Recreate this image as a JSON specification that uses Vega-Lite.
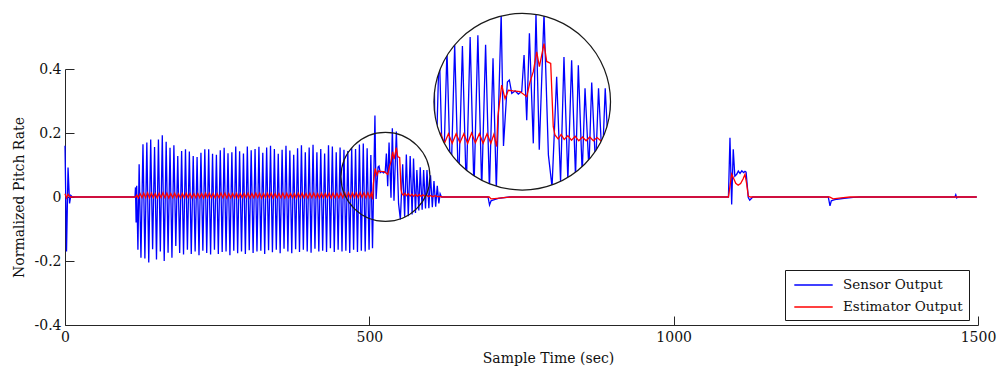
{
  "$schema": "https://vega.github.io/schema/vega-lite/v6.json",
  "width": 913,
  "height": 256,
  "autosize": {"type": "none"},
  "padding": {"left": 65, "top": 69, "right": 21, "bottom": 44},
  "background": "white",
  "config": {
    "view": {"stroke": null},
    "font": "DejaVu Serif",
    "axis": {
      "domainColor": "#262626", "tickColor": "#262626", "labelColor": "#111111", "titleColor": "#111111",
      "labelFont": "DejaVu Serif", "titleFont": "DejaVu Serif",
      "labelFontSize": 14, "titleFontSize": 14, "titleFontWeight": "normal",
      "grid": false, "tickSize": -9, "domainWidth": 1, "tickWidth": 1, "labelFlush": false, "labelOverlap": false
    }
  },
  "datasets": {
    "circle": [{"t": 526.5, "v": 0.063}],
    "sensor": [
      {"t":0,"v":0.16},{"t":2.5,"v":-0.17},{"t":5,"v":0.092},{"t":7.5,"v":-0.02},{"t":9.5,"v":0.005},{"t":12,"v":0},
      {"t":115,"v":0},{"t":115.8,"v":0.03},{"t":116.8,"v":-0.08},{"t":117.8,"v":0.035},{"t":119.8,"v":-0.165},{"t":121.8,"v":0.102},{"t":124.8,"v":-0.19},
      {"t":128.1,"v":0.165},{"t":131.25,"v":-0.192},{"t":134.45,"v":0.17},{"t":137.6,"v":-0.205},{"t":140.8,"v":0.18},{"t":143.95,"v":-0.163},
      {"t":147.15,"v":0.156},{"t":150.3,"v":-0.195},{"t":153.5,"v":0.18},{"t":156.65,"v":-0.17},{"t":159.85,"v":0.193},{"t":163.0,"v":-0.2},
      {"t":166.2,"v":0.173},{"t":169.35,"v":-0.174},{"t":172.55,"v":0.154},{"t":175.7,"v":-0.19},{"t":178.9,"v":0.162},{"t":182.05,"v":-0.153},
      {"t":185.25,"v":0.128},{"t":188.4,"v":-0.175},{"t":191.6,"v":0.144},{"t":194.75,"v":-0.18},{"t":197.95,"v":0.149},{"t":201.1,"v":-0.165},
      {"t":204.3,"v":0.142},{"t":207.45,"v":-0.178},{"t":210.65,"v":0.128},{"t":213.8,"v":-0.17},{"t":217.0,"v":0.125},{"t":220.15,"v":-0.182},
      {"t":223.35,"v":0.138},{"t":226.5,"v":-0.168},{"t":229.7,"v":0.149},{"t":232.85,"v":-0.175},{"t":236.05,"v":0.149},{"t":239.2,"v":-0.18},
      {"t":242.4,"v":0.135},{"t":245.55,"v":-0.165},{"t":248.75,"v":0.132},{"t":251.9,"v":-0.178},{"t":255.1,"v":0.146},{"t":258.25,"v":-0.172},
      {"t":261.45,"v":0.154},{"t":264.6,"v":-0.17},{"t":267.8,"v":0.137},{"t":270.95,"v":-0.182},{"t":274.15,"v":0.14},{"t":277.3,"v":-0.168},
      {"t":280.5,"v":0.158},{"t":283.65,"v":-0.176},{"t":286.85,"v":0.143},{"t":290.0,"v":-0.17},{"t":293.2,"v":0.136},{"t":296.35,"v":-0.178},
      {"t":299.55,"v":0.158},{"t":302.7,"v":-0.166},{"t":305.9,"v":0.146},{"t":309.05,"v":-0.175},{"t":312.25,"v":0.15},{"t":315.4,"v":-0.17},
      {"t":318.6,"v":0.157},{"t":321.75,"v":-0.168},{"t":324.95,"v":0.138},{"t":328.1,"v":-0.178},{"t":331.3,"v":0.155},{"t":334.45,"v":-0.166},
      {"t":337.65,"v":0.16},{"t":340.8,"v":-0.173},{"t":344.0,"v":0.15},{"t":347.15,"v":-0.165},{"t":350.35,"v":0.135},{"t":353.5,"v":-0.176},
      {"t":356.7,"v":0.148},{"t":359.85,"v":-0.162},{"t":363.05,"v":0.16},{"t":366.2,"v":-0.17},{"t":369.4,"v":0.145},{"t":372.55,"v":-0.176},
      {"t":375.75,"v":0.132},{"t":378.9,"v":-0.163},{"t":382.1,"v":0.152},{"t":385.25,"v":-0.172},{"t":388.45,"v":0.162},{"t":391.6,"v":-0.165},
      {"t":394.8,"v":0.14},{"t":397.95,"v":-0.17},{"t":401.15,"v":0.155},{"t":404.3,"v":-0.174},{"t":407.5,"v":0.163},{"t":410.65,"v":-0.162},
      {"t":413.85,"v":0.14},{"t":417.0,"v":-0.17},{"t":420.2,"v":0.15},{"t":423.35,"v":-0.168},{"t":426.55,"v":0.136},{"t":429.7,"v":-0.172},
      {"t":432.9,"v":0.162},{"t":436.05,"v":-0.16},{"t":439.25,"v":0.158},{"t":442.4,"v":-0.172},{"t":445.6,"v":0.14},{"t":448.75,"v":-0.165},
      {"t":451.95,"v":0.155},{"t":455.1,"v":-0.17},{"t":458.3,"v":0.148},{"t":461.45,"v":-0.168},{"t":464.65,"v":0.144},{"t":467.8,"v":-0.175},
      {"t":471.0,"v":0.152},{"t":474.15,"v":-0.165},{"t":477.35,"v":0.15},{"t":480.5,"v":-0.172},{"t":483.7,"v":0.164},{"t":486.85,"v":-0.168},
      {"t":490.05,"v":0.167},{"t":493.2,"v":-0.17},{"t":496.4,"v":0.152},{"t":499.55,"v":-0.165},{"t":502.5,"v":0.131},{"t":505.2,"v":-0.16},
      {"t":509.2,"v":0.255},{"t":511.1,"v":-0.006},{"t":514.3,"v":0.094},{"t":515.9,"v":0.097},{"t":517.9,"v":0.076},{"t":520.6,"v":0.08},
      {"t":523.3,"v":0.075},{"t":526.1,"v":0.079},{"t":528.0,"v":0.136},{"t":530.2,"v":0.034},{"t":532.4,"v":0.17},{"t":535.6,"v":-0.002},
      {"t":537.8,"v":0.215},{"t":540.5,"v":-0.012},{"t":544.4,"v":0.205},{"t":548,"v":-0.02},{"t":551,"v":-0.07},{"t":554.8,"v":0.102},
      {"t":558,"v":-0.062},{"t":560.8,"v":0.133},{"t":564,"v":-0.06},{"t":567.1,"v":0.128},{"t":570.3,"v":-0.055},{"t":572.6,"v":0.12},
      {"t":575.8,"v":-0.05},{"t":578.1,"v":0.084},{"t":581.3,"v":-0.042},{"t":583.6,"v":0.093},{"t":586.8,"v":-0.04},{"t":589.2,"v":0.084},
      {"t":592.3,"v":-0.036},{"t":594.7,"v":0.084},{"t":597.8,"v":-0.035},{"t":600.5,"v":0.068},{"t":603.5,"v":-0.032},{"t":606.2,"v":0.05},
      {"t":609,"v":-0.03},{"t":611.6,"v":0.035},{"t":614.2,"v":-0.02},{"t":616.3,"v":0.01},{"t":618.5,"v":0},
      {"t":695,"v":0},{"t":697.5,"v":-0.025},{"t":700,"v":-0.012},{"t":703,"v":-0.01},{"t":712,"v":-0.004},{"t":730,"v":0},
      {"t":1090,"v":0},{"t":1092.5,"v":0.185},{"t":1095.3,"v":-0.023},{"t":1097.9,"v":0.149},{"t":1100.5,"v":0.065},{"t":1103.5,"v":0.071},
      {"t":1106.2,"v":0.081},{"t":1109,"v":0.074},{"t":1112,"v":0.082},{"t":1115,"v":0.076},{"t":1117.2,"v":0.08},{"t":1119,"v":0.078},
      {"t":1122.6,"v":-0.002},{"t":1125,"v":-0.01},{"t":1130,"v":0},
      {"t":1254,"v":0},{"t":1256.8,"v":-0.028},{"t":1259,"v":-0.012},{"t":1262.2,"v":-0.01},{"t":1268,"v":-0.007},{"t":1280,"v":-0.004},{"t":1295,"v":-0.001},{"t":1305,"v":0},
      {"t":1462,"v":0},{"t":1463.5,"v":0.007},{"t":1465,"v":-0.003},{"t":1467,"v":0},{"t":1498,"v":0}
    ],
    "estimator": [
      {"t":0,"v":0.01},{"t":2.5,"v":-0.003},{"t":5,"v":0.008},{"t":8,"v":0},{"t":116,"v":0},{"t":118,"v":0.006},{"t":120.5,"v":-0.003},{"t":123.5,"v":0.01},{"t":126.5,"v":-0.002},
      {"t":129.3,"v":0.012},{"t":132.4,"v":-0.002},{"t":135.65,"v":0.013},{"t":138.75,"v":-0.003},{"t":142.0,"v":0.012},{"t":145.1,"v":-0.002},
      {"t":148.35,"v":0.011},{"t":151.45,"v":-0.003},{"t":154.7,"v":0.012},{"t":157.8,"v":-0.002},{"t":161.05,"v":0.013},{"t":164.15,"v":-0.002},
      {"t":167.4,"v":0.012},{"t":170.5,"v":-0.003},{"t":173.75,"v":0.011},{"t":176.85,"v":-0.002},{"t":180.1,"v":0.012},{"t":183.2,"v":-0.002},
      {"t":186.45,"v":0.01},{"t":189.55,"v":-0.003},{"t":192.8,"v":0.011},{"t":195.9,"v":-0.002},{"t":199.15,"v":0.012},{"t":202.25,"v":-0.002},
      {"t":205.5,"v":0.011},{"t":208.6,"v":-0.003},{"t":211.85,"v":0.01},{"t":214.95,"v":-0.002},{"t":218.2,"v":0.011},{"t":221.3,"v":-0.002},
      {"t":224.55,"v":0.011},{"t":227.65,"v":-0.003},{"t":230.9,"v":0.012},{"t":234.0,"v":-0.002},{"t":237.25,"v":0.012},{"t":240.35,"v":-0.002},
      {"t":243.6,"v":0.011},{"t":246.7,"v":-0.003},{"t":249.95,"v":0.011},{"t":253.05,"v":-0.002},{"t":256.3,"v":0.012},{"t":259.4,"v":-0.002},
      {"t":262.65,"v":0.012},{"t":265.75,"v":-0.003},{"t":269.0,"v":0.011},{"t":272.1,"v":-0.002},{"t":275.35,"v":0.011},{"t":278.45,"v":-0.002},
      {"t":281.7,"v":0.012},{"t":284.8,"v":-0.003},{"t":288.05,"v":0.011},{"t":291.15,"v":-0.002},{"t":294.4,"v":0.011},{"t":297.5,"v":-0.002},
      {"t":300.75,"v":0.012},{"t":303.85,"v":-0.003},{"t":307.1,"v":0.011},{"t":310.2,"v":-0.002},{"t":313.45,"v":0.012},{"t":316.55,"v":-0.002},
      {"t":319.8,"v":0.012},{"t":322.9,"v":-0.003},{"t":326.15,"v":0.011},{"t":329.25,"v":-0.002},{"t":332.5,"v":0.012},{"t":335.6,"v":-0.002},
      {"t":338.85,"v":0.012},{"t":341.95,"v":-0.003},{"t":345.2,"v":0.011},{"t":348.3,"v":-0.002},{"t":351.55,"v":0.011},{"t":354.65,"v":-0.002},
      {"t":357.9,"v":0.012},{"t":361.0,"v":-0.003},{"t":364.25,"v":0.012},{"t":367.35,"v":-0.002},{"t":370.6,"v":0.011},{"t":373.7,"v":-0.002},
      {"t":376.95,"v":0.011},{"t":380.05,"v":-0.003},{"t":383.3,"v":0.012},{"t":386.4,"v":-0.002},{"t":389.65,"v":0.012},{"t":392.75,"v":-0.002},
      {"t":396.0,"v":0.011},{"t":399.1,"v":-0.003},{"t":402.35,"v":0.012},{"t":405.45,"v":-0.002},{"t":408.7,"v":0.012},{"t":411.8,"v":-0.002},
      {"t":415.05,"v":0.011},{"t":418.15,"v":-0.003},{"t":421.4,"v":0.012},{"t":424.5,"v":-0.002},{"t":427.75,"v":0.011},{"t":430.85,"v":-0.002},
      {"t":434.1,"v":0.012},{"t":437.2,"v":-0.003},{"t":440.45,"v":0.012},{"t":443.55,"v":-0.002},{"t":446.8,"v":0.011},{"t":449.9,"v":-0.002},
      {"t":453.15,"v":0.012},{"t":456.25,"v":-0.002},{"t":459.5,"v":0.013},{"t":462.6,"v":-0.002},{"t":465.85,"v":0.013},{"t":468.95,"v":-0.002},
      {"t":472.2,"v":0.013},{"t":475.3,"v":-0.001},{"t":478.55,"v":0.013},{"t":481.65,"v":-0.002},{"t":484.9,"v":0.014},{"t":488.0,"v":-0.001},
      {"t":491.25,"v":0.013},{"t":494.35,"v":-0.002},{"t":497.6,"v":0.013},{"t":500.7,"v":-0.002},{"t":503.2,"v":0.012},{"t":505.5,"v":-0.007},
      {"t":506.5,"v":0.04},{"t":509.6,"v":0.089},{"t":512.4,"v":0.068},{"t":515.1,"v":0.081},{"t":519.2,"v":0.08},{"t":524.7,"v":0.079},
      {"t":530.2,"v":0.071},{"t":532.9,"v":0.094},{"t":535.6,"v":0.11},{"t":538.4,"v":0.141},{"t":540.6,"v":0.118},{"t":544.4,"v":0.154},
      {"t":546.6,"v":0.126},{"t":549.9,"v":0.123},{"t":552,"v":0.024},{"t":553.4,"v":0.011},{"t":556,"v":0.005},{"t":558.5,"v":0.012},
      {"t":561,"v":0.004},{"t":564,"v":0.01},{"t":567,"v":0.003},{"t":570,"v":0.009},{"t":573,"v":0.002},{"t":576,"v":0.008},{"t":579,"v":0.002},
      {"t":582,"v":0.008},{"t":585,"v":0.002},{"t":588,"v":0.007},{"t":591,"v":0.002},{"t":594,"v":0.006},{"t":597,"v":0.001},{"t":600,"v":0.005},
      {"t":604,"v":0.001},{"t":608,"v":0.004},{"t":612,"v":0.001},{"t":616,"v":0.002},{"t":620,"v":0},
      {"t":697,"v":0},{"t":700,"v":-0.006},{"t":710,"v":-0.004},{"t":725,"v":-0.001},{"t":735,"v":0},
      {"t":1090,"v":0},{"t":1093,"v":0.04},{"t":1095.3,"v":0.071},{"t":1098,"v":0.06},{"t":1102,"v":0.043},{"t":1106,"v":0.037},{"t":1110,"v":0.042},
      {"t":1114,"v":0.056},{"t":1117.2,"v":0.071},{"t":1120,"v":0.04},{"t":1122.6,"v":0.003},{"t":1126,"v":0},
      {"t":1256,"v":0},{"t":1262,"v":-0.006},{"t":1275,"v":-0.003},{"t":1290,"v":0},{"t":1498,"v":0}
    ]
  },
  "layer": [
    {
      "encoding": {
        "x": {"field": "t", "type": "quantitative", "axis": null,
              "scale": {"domain": [454, 599.2], "range": [369, 545.7], "clamp": true, "nice": false, "zero": false}},
        "y": {"field": "v", "type": "quantitative", "axis": null,
              "scale": {"domain": [-0.0749, 0.2011], "range": [121, -55.6], "clamp": true, "nice": false, "zero": false}}
      },
      "layer": [
        {"data": {"name": "sensor"}, "transform": [{"filter": "datum.t >= 448 && datum.t <= 606"}],
         "mark": {"type": "line", "color": "#0000ff", "strokeWidth": 1.3, "clip": false}},
        {"data": {"name": "estimator"}, "transform": [{"filter": "datum.t >= 448 && datum.t <= 606"}],
         "mark": {"type": "line", "color": "#ff0000", "strokeWidth": 1.3, "clip": false}},
        {"data": {"name": "circle"},
         "mark": {"type": "point", "shape": "circle", "filled": false, "stroke": "white", "strokeWidth": 40, "size": 46916, "opacity": 1, "clip": false}},
        {"data": {"name": "circle"},
         "mark": {"type": "point", "shape": "circle", "filled": false, "stroke": "#1a1a1a", "strokeWidth": 1.2, "size": 31187, "opacity": 1, "clip": false}}
      ]
    },
    {
      "encoding": {
        "x": {"field": "t", "type": "quantitative",
              "scale": {"domain": [0, 1500], "nice": false, "zero": false},
              "axis": {"orient": "bottom", "values": [0, 500, 1000, 1500], "format": "d", "labelPadding": 14,
                       "title": "Sample Time (sec)", "titlePadding": 7, "titleX": 483}},
        "y": {"field": "v", "type": "quantitative",
              "scale": {"domain": [-0.4, 0.4], "nice": false, "zero": false},
              "axis": {"orient": "left", "values": [-0.4, -0.2, 0, 0.2, 0.4], "labelPadding": 13,
                       "labelExpr": "datum.value == 0 ? '0' : (datum.value < 0 ? '-' + format(-datum.value, '.1f') : format(datum.value, '.1f'))",
                       "title": "Normalized Pitch Rate", "titlePadding": 8}}
      },
      "layer": [
        {"data": {"name": "sensor"},
         "mark": {"type": "line", "strokeWidth": 1.3},
         "encoding": {"color": {"datum": "Sensor Output", "type": "nominal",
           "scale": {"domain": ["Sensor Output", "Estimator Output"], "range": ["#0000ff", "#ff0000"]},
           "legend": {"title": null, "orient": "none", "legendX": 720, "legendY": 201,
                      "strokeColor": "#1a1a1a", "fillColor": "white", "padding": 6, "rowPadding": 6,
                      "symbolType": "M-2.4,0H2.4", "symbolSize": 256, "symbolStrokeWidth": 1.3, "symbolOffset": 13.5, "labelOffset": 20.5,
                      "labelFont": "DejaVu Serif", "labelFontSize": 13.5, "labelColor": "#111111"}}}},
        {"data": {"name": "estimator"},
         "mark": {"type": "line", "strokeWidth": 1.3},
         "encoding": {"color": {"datum": "Estimator Output", "type": "nominal"}}},
        {"data": {"name": "circle"},
         "mark": {"type": "point", "shape": "circle", "filled": false, "stroke": "#1a1a1a", "strokeWidth": 1.2, "size": 7921, "opacity": 1, "clip": false}}
      ]
    }
  ],
  "resolve": {"scale": {"x": "independent", "y": "independent"}}
}
